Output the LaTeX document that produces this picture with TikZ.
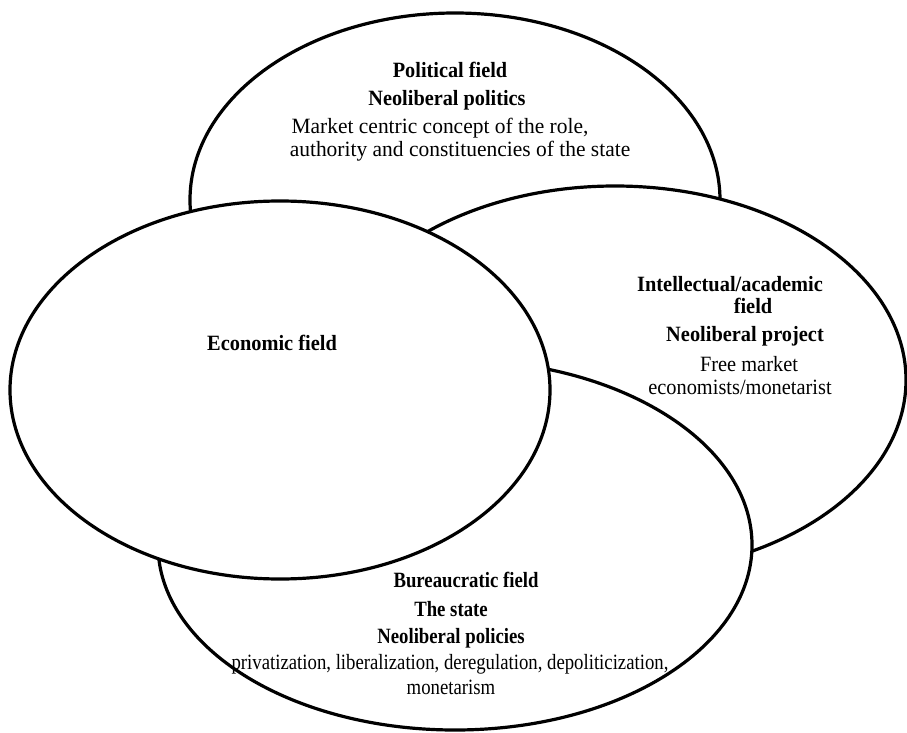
\documentclass[tikz,border=0pt]{standalone}
\usepackage{fontspec}
\setmainfont{Liberation Serif}
\usepackage{graphicx}
\usepackage{tikz}
\usetikzlibrary{shapes.geometric, positioning}

% narrower type, as in the original figure
\newcommand{\sq}[2]{\scalebox{#1}[1]{#2}}

\begin{document}
\begin{tikzpicture}[x=1pt, y=-1pt,
	field/.style={shape=ellipse, draw=black, fill=white, line width=3.2pt, inner sep=0pt},
	txt/.style={inner sep=0pt, font=\fontsize{21.8}{25}\selectfont},
	head/.style={txt, font=\fontsize{21.8}{25}\selectfont\bfseries}]
	\useasboundingbox (0,0) rectangle (907,733);
	
	\node[field, minimum width=530pt, minimum height=374pt] (Pol) at (455,200) {};
	\node[field, minimum width=582pt, minimum height=388pt] (Int) at (615,380) {};
	\node[field, minimum width=594pt, minimum height=370pt] (Bur) at (455,545) {};
	\node[field, minimum width=540pt, minimum height=378pt] (Eco) at (280,390) {};
	
	% political field
	\node[head] (P1) at (450,70) {\sq{0.93}{Political field}};
	\node[head] (P2) at (447,100) {\sq{0.93}{Neoliberal politics}};
	\node[txt] (P3) at (440,128) {\sq{0.985}{Market centric concept of the role,}};
	\node[txt] (P4) at (460,151) {\sq{0.985}{authority and constituencies of the state}};
	
	% economic field
	\node[head] (E1) at (272,343) {\sq{0.935}{Economic field}};
	
	% intellectual field
	\node[head] (I1) at (730,284) {\sq{0.935}{Intellectual/academic}};
	\node[head] (I2) at (753,306) {\sq{0.935}{field}};
	\node[head] (I3) at (745,336) {\sq{0.935}{Neoliberal project}};
	\node[txt] (I4) at (749,364) {\sq{0.935}{Free market}};
	\node[txt] (I5) at (740,387) {\sq{0.935}{economists/monetarist}};
	
	% bureaucratic field
	\node[head] (B1) at (466,580) {\sq{0.86}{Bureaucratic field}};
	\node[head] (B2) at (451,609) {\sq{0.86}{The state}};
	\node[head] (B3) at (451,638) {\sq{0.86}{Neoliberal policies}};
	\node[txt] (B4) at (450,664) {\sq{0.86}{privatization, liberalization, deregulation, depoliticization,}};
	\node[txt] (B5) at (451,687) {\sq{0.86}{monetarism}};
\end{tikzpicture}
\end{document}
